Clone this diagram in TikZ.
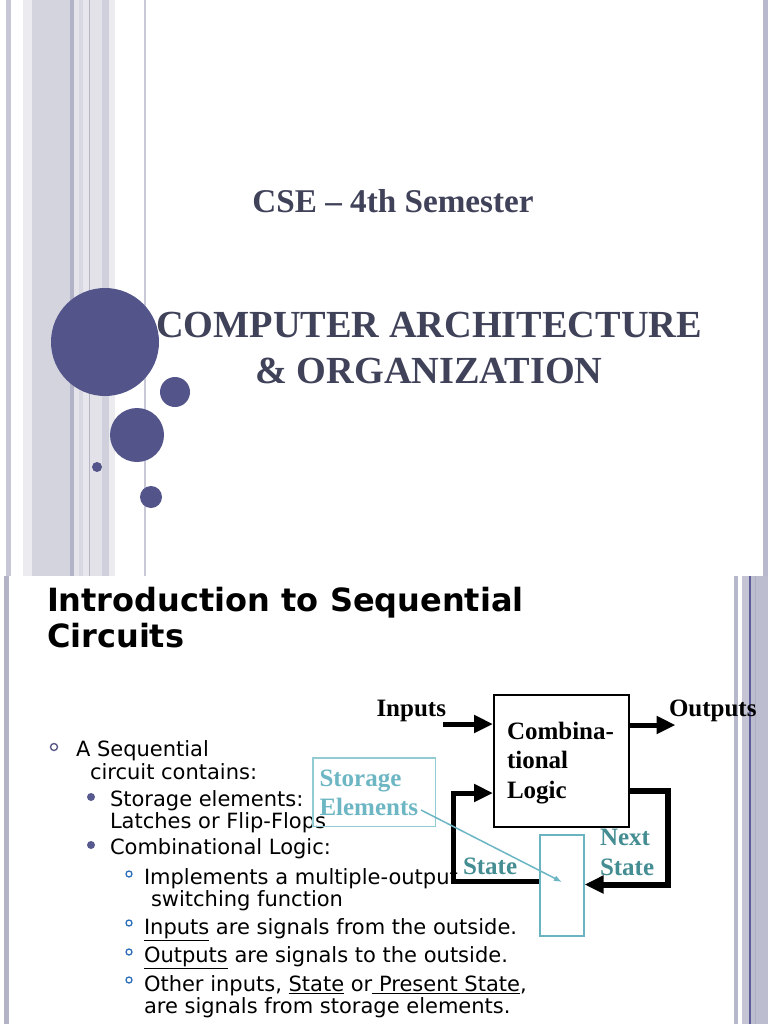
\documentclass[tikz,border=0pt]{standalone}
\usepackage{fontspec}
\setmainfont{Liberation Serif}
\newfontfamily\dejavu{DejaVu Sans}
\usetikzlibrary{arrows.meta}
\definecolor{sA}{HTML}{C6C6D6}
\definecolor{sB}{HTML}{EBEBF0}
\definecolor{sC}{HTML}{D4D4DE}
\definecolor{sD}{HTML}{B3B3C7}
\definecolor{sE}{HTML}{E4E4EA}
\definecolor{sF}{HTML}{D8D8E2}
\definecolor{sG}{HTML}{E6E6EC}
\definecolor{sH}{HTML}{B5B5C5}
\definecolor{sI}{HTML}{E2E2E8}
\definecolor{sJ}{HTML}{D0D0DC}
\definecolor{sK}{HTML}{ECECF0}
\definecolor{sL}{HTML}{C8C8D8}
\definecolor{rA}{HTML}{B9B9CD}
\definecolor{rB}{HTML}{B8B8CC}
\definecolor{rC}{HTML}{C4C4D4}
\definecolor{rD}{HTML}{5C5C96}
\definecolor{rE}{HTML}{BDBDD0}
\definecolor{rF}{HTML}{B0B0C4}
\definecolor{lA}{HTML}{B3B3C8}
\definecolor{titlec}{HTML}{404259}
\definecolor{circ}{HTML}{52548A}
\definecolor{tealdark}{HTML}{448D92}
\definecolor{teallight}{HTML}{6DB6C4}
\definecolor{tealbox}{HTML}{93CBD3}
\definecolor{tealrect}{HTML}{6AB3C0}
\definecolor{bulA}{HTML}{5B5B8B}
\definecolor{bulB}{HTML}{575A8E}
\definecolor{bulC}{HTML}{2C6EB7}
\tikzset{
  txt/.style={inner sep=0pt, outer sep=0pt, anchor=base west},
  ctxt/.style={inner sep=0pt, outer sep=0pt, anchor=base},
  bigtitle/.style={ctxt, text=titlec, font=\fontsize{38.3}{45}\selectfont\bfseries},
  semtitle/.style={ctxt, text=titlec, font=\fontsize{33.2}{40}\selectfont\bfseries},
  slidetitle/.style={txt, font=\dejavu\bfseries\fontsize{32}{36}\selectfont},
  body/.style={txt, font=\dejavu\fontsize{21}{22}\selectfont},
  lbl/.style={txt, font=\fontsize{25}{30}\selectfont\bfseries},
  thickarrow/.style={line width=5pt, -{Triangle[length=19pt,width=17pt]}},
}
\begin{document}
\begin{tikzpicture}[x=1pt,y=-1pt]
\useasboundingbox (0,0) rectangle (768,1024);
\fill[white] (0,0) rectangle (768,1024);
% ---------- top slide stripes
\fill[sA] (6,0) rectangle (11,576);
\fill[sB] (23,0) rectangle (32,576);
\fill[sC] (32,0) rectangle (70,576);
\fill[sD] (70,0) rectangle (74,576);
\fill[sE] (74,0) rectangle (79,576);
\fill[sF] (79,0) rectangle (83,576);
\fill[sG] (83,0) rectangle (89,576);
\fill[sH] (89,0) rectangle (90,576);
\fill[sI] (90,0) rectangle (102,576);
\fill[sJ] (102,0) rectangle (109,576);
\fill[sK] (109,0) rectangle (115,576);
\fill[sL] (144,0) rectangle (146,576);
\fill[rA] (763,0) rectangle (768,576);
% circles
\fill[circ] (105,342) circle[radius=54pt];
\fill[circ] (175,392) circle[radius=15pt];
\fill[circ] (137,435) circle[radius=27pt];
\fill[circ] (97,467) circle[radius=5pt];
\fill[circ] (151,497) circle[radius=11pt];
% titles
\node[semtitle] (sem) at (393,213) {CSE – 4th Semester};
\node[bigtitle] (ca1) at (429,337) {COMPUTER ARCHITECTURE};
\node[bigtitle] (ca2) at (429,383) {\& ORGANIZATION};
% ---------- bottom slide stripes
\fill[lA] (4,576) rectangle (9,1024);
\fill[rB] (734,576) rectangle (738,1024);
\fill[rC] (742,576) rectangle (749,1024);
\fill[rD] (749,576) rectangle (750.5,1024);
\fill[rE] (750.5,576) rectangle (768,1024);
\fill[rF] (755,576) rectangle (756,1024);
% slide title
\node[slidetitle] (t1) at (47,611) {Introduction to Sequential};
\node[slidetitle] (t2) at (47,647) {Circuits};
% bullets
\draw[bulA, line width=1.4pt] (54,747) circle[radius=3.5pt];
\fill[bulB] (91,797) circle[radius=4pt];
\fill[bulB] (91,845) circle[radius=4pt];
\foreach \yy in {874,923,952,980}{\draw[bulC, line width=1.3pt] (129,\yy) circle[radius=3pt];}
\node[body] (b1) at (76,756) {A Sequential};
\node[body] (b1b) at (90,779) {circuit contains:};
\node[body] (b2) at (110,806) {Storage elements:};
\node[body] (b2b) at (110,828) {Latches or Flip-Flops};
\node[body] (b3) at (110,854) {Combinational Logic:};
\node[body] (b4) at (144,884) {Implements a multiple-output};
\node[body] (b4b) at (151,906) {switching function};
\node[body] (b5) at (144,934) {\underline{Inputs} are signals from the outside.};
\node[body] (b6) at (144,962) {\underline{Outputs} are signals to the outside.};
\node[body] (b7) at (144,991) {Other inputs, \underline{State} or\underline{\ Present State},};
\node[body] (b7b) at (144,1013) {are signals from storage elements.};
% ---------- diagram
\node[draw, line width=2pt, minimum width=135pt, minimum height=132pt, inner sep=0pt, anchor=north west] (cl) at (493,693.5) {};
\node[lbl] (cl1) at (507,739) {Combina-};
\node[lbl] (cl2) at (507,768.5) {tional};
\node[lbl] (cl3) at (507,798) {Logic};
\node[lbl] (inl) at (376.5,716.5) {Inputs};
\node[lbl] (outl) at (669,716) {Outputs};
\node[draw=tealrect, line width=2pt, minimum width=44pt, minimum height=101.5pt, inner sep=0pt, anchor=north west] (st) at (538.5,833.5) {};
\node[draw=tealbox, line width=1.5pt, minimum width=122.5pt, minimum height=68.5pt, inner sep=0pt, anchor=north west] (se) at (312,757.3) {};
\node[lbl, text=teallight] (se1) at (319.5,786) {Storage};
\node[lbl, text=teallight] (se2) at (319.5,815) {Elements};
\node[lbl, text=tealdark] (ns1) at (600,845.5) {Next};
\node[lbl, text=tealdark] (ns2) at (600,875.5) {State};
\node[lbl, text=tealdark] (psl) at (463,874.5) {State};
% connectors
\coordinate (inS) at (443,724);
\coordinate (outE) at (675.5,725);
\draw[thickarrow] (inS) -- (cl.west |- inS);
\draw[thickarrow] (cl.east |- outE) -- (outE);
\draw[thickarrow, line width=6pt] (cl.east |- 0,791) -- (668,791) -- (668,884.5) -- (st.east |- 0,884.5);
\draw[thickarrow] (st.west |- 0,881) -- (453,881) -- (453,793) -- (cl.west |- 0,793);
\coordinate (seA) at (421,810);
\coordinate (stA) at (562,882);
\draw[teallight, line width=1.5pt, -{Latex[length=8pt,width=6pt]}] (seA) -- (stA);
\end{tikzpicture}
\end{document}
